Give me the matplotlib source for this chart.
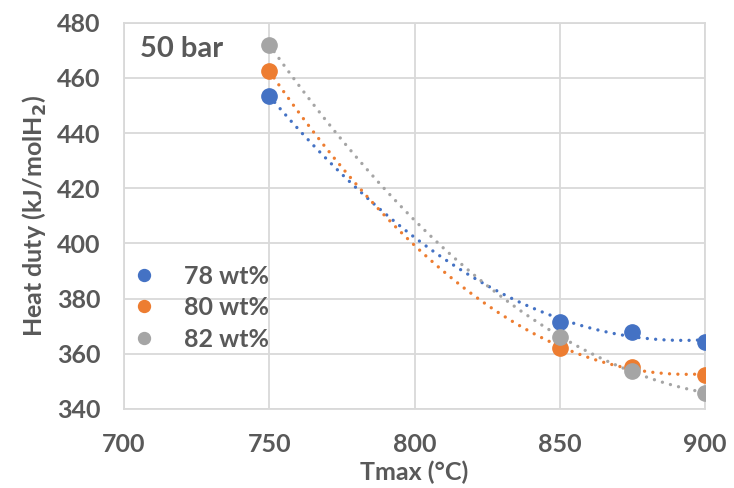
import numpy as np
import matplotlib
matplotlib.use('Agg')
import matplotlib.pyplot as plt

plt.rcParams['font.family'] = ['Lato', 'DejaVu Sans']
plt.rcParams['font.weight'] = 'bold'

tmax = [750, 850, 875, 900]
duty_78 = [453.5, 371.7, 367.9, 364.4]
duty_80 = [462.5, 362.2, 355.3, 352.4]
duty_82 = [472.0, 366.2, 353.8, 345.8]
labels = ['78 wt%', '80 wt%', '82 wt%']
colors = ['#4472C4', '#ED7D31', '#A5A5A5']
text_color = '#595959'

fig = plt.figure(figsize=(7.34, 4.88), dpi=100)
ax = fig.add_axes([124 / 734, 79 / 488, 581 / 734, 386.3 / 488])

xs = np.linspace(750, 900, 200)
for ys, lab, c in zip([duty_78, duty_80, duty_82], labels, colors):
    # 2nd order polynomial trendline like excel
    p = np.polyfit(tmax, ys, 2)
    ax.plot(xs, np.polyval(p, xs), color=c, lw=2.4, linestyle=(0, (0.01, 2.5)),
            dash_capstyle='round', zorder=2)
    ax.plot(tmax, ys, 'o', color=c, ms=11, label=lab, zorder=3)

ax.set_xlim(700, 900)
ax.set_ylim(340, 480)
ax.set_xticks(range(700, 901, 50))
ax.set_yticks(range(340, 481, 20))
ax.grid(color='#d9d9d9', lw=1.3)
ax.set_axisbelow(True)
for s in ax.spines.values():
    s.set_color('#d9d9d9')
    s.set_linewidth(1.3)
ax.tick_params(length=0, labelsize=18, labelcolor=text_color)
ax.tick_params(axis='x', pad=17)
ax.tick_params(axis='y', pad=17)
for t in ax.get_xticklabels() + ax.get_yticklabels():
    t.set_fontweight('bold')

ax.set_xlabel('Tmax (°C)', fontsize=18, color=text_color, fontweight='bold')
ax.xaxis.label.set_va('baseline')
ax.xaxis.set_label_coords(0.5, (409 - 480) / 386.3)
ax.set_ylabel('Heat duty (kJ/molH$_\\mathbf{2}$)', fontsize=18, color=text_color,
              fontweight='bold', labelpad=6)

ax.text(16 / 581, (409 - 57) / 386.3, '50 bar', transform=ax.transAxes, fontsize=21,
        fontweight='bold', color=text_color, va='baseline', ha='left')

leg = ax.legend(loc='upper left', bbox_to_anchor=(0.013, 0.374), frameon=False,
                fontsize=18, handlelength=1.0, handletextpad=1.1, labelspacing=0.34,
                borderpad=0, borderaxespad=0, markerscale=0.78)
for t in leg.get_texts():
    t.set_color(text_color)
    t.set_fontweight('bold')

fig.savefig('out.png', dpi=100)
